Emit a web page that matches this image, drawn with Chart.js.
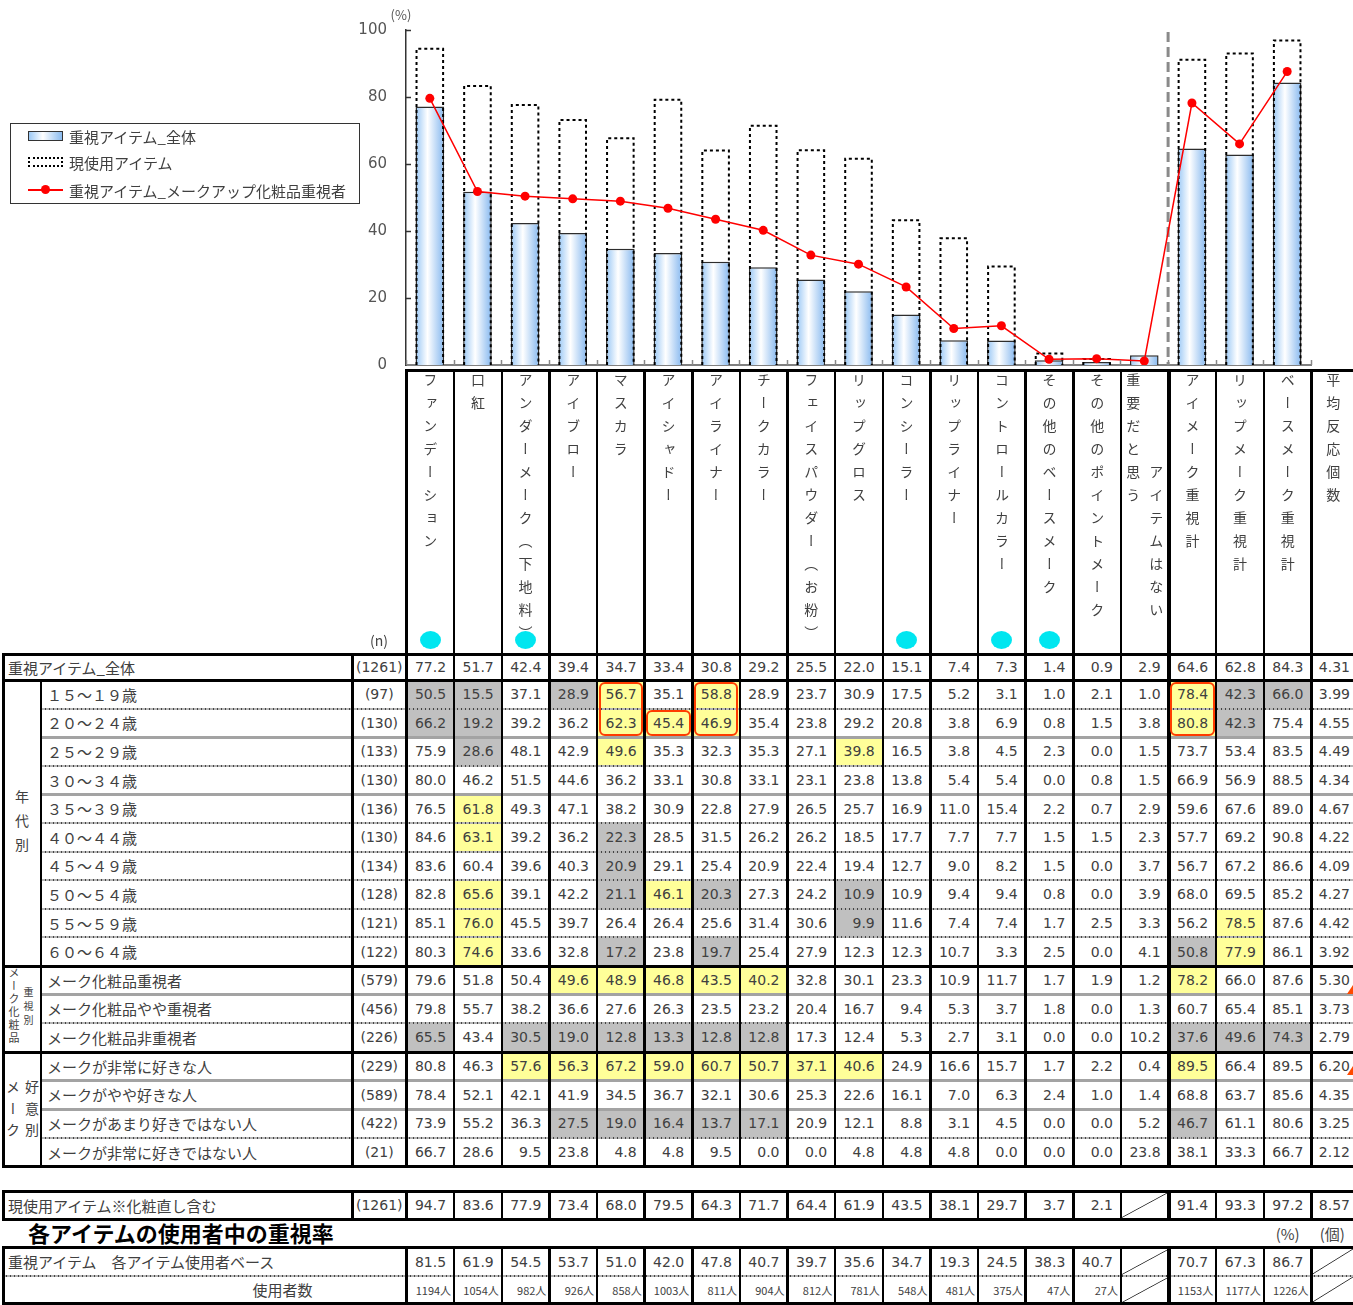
<!DOCTYPE html>
<html lang="ja">
<head>
<meta charset="utf-8">
<title>重視アイテム</title>
<script src="https://cdn.jsdelivr.net/npm/chart.js@4.4.1/dist/chart.umd.min.js"></script>
<style>
html,body{margin:0;padding:0;background:#fff;}
body{position:relative;width:1353px;height:1305px;overflow:hidden;font-family:"Noto Sans CJK JP","Noto Sans",sans-serif;color:#404040;}
#chartBox{position:absolute;left:0;top:0;width:1353px;height:380px;}
.a{position:absolute;box-sizing:border-box;}
.vt{position:absolute;writing-mode:vertical-rl;font-size:14px;line-height:14px;letter-spacing:9px;color:#404040;white-space:nowrap;}
.num{display:flex;align-items:center;justify-content:flex-end;font-family:"DejaVu Sans",sans-serif;font-size:14px;color:#404040;padding-right:8px;}
.lab{display:flex;align-items:center;font-size:15px;color:#404040;white-space:nowrap;}
</style>
</head>
<body>
<div id="chartBox"><canvas id="c" width="1353" height="380"></canvas></div>
<script>
// ---------------- DATA ----------------
const categories = ['ファンデーション','口紅','アンダーメーク（下地料）','アイブロー','マスカラ','アイシャドー','アイライナー','チークカラー','フェイスパウダー（お粉）','リップグロス','コンシーラー','リップライナー','コントロールカラー','その他のベースメーク','その他のポイントメーク','重要だと思うアイテムはない','アイメーク重視計','リップメーク重視計','ベースメーク重視計'];
const avgLabel = '平均反応個数';
const yTicks = [0,20,40,60,80,100];
const seriesNames = ['重視アイテム_全体','現使用アイテム','重視アイテム_メークアップ化粧品重視者'];

const importanceAll = [77.2,51.7,42.4,39.4,34.7,33.4,30.8,29.2,25.5,22.0,15.1,7.4,7.3,1.4,0.9,2.9,64.6,62.8,84.3];
const importanceAllAvg = 4.31;
const currentUse = [94.7,83.6,77.9,73.4,68.0,79.5,64.3,71.7,64.4,61.9,43.5,38.1,29.7,3.7,2.1,null,91.4,93.3,97.2];
const currentUseAvg = 8.57;
const makeupImportant = [79.6,51.8,50.4,49.6,48.9,46.8,43.5,40.2,32.8,30.1,23.3,10.9,11.7,1.7,1.9,1.2,78.2,66.0,87.6];

const ageLabels = ['１５～１９歳','２０～２４歳','２５～２９歳','３０～３４歳','３５～３９歳','４０～４４歳','４５～４９歳','５０～５４歳','５５～５９歳','６０～６４歳'];
const ageN = [97,130,133,130,136,130,134,128,121,122];
const ageValues = [
 [50.5,15.5,37.1,28.9,56.7,35.1,58.8,28.9,23.7,30.9,17.5,5.2,3.1,1.0,2.1,1.0,78.4,42.3,66.0],
 [66.2,19.2,39.2,36.2,62.3,45.4,46.9,35.4,23.8,29.2,20.8,3.8,6.9,0.8,1.5,3.8,80.8,42.3,75.4],
 [75.9,28.6,48.1,42.9,49.6,35.3,32.3,35.3,27.1,39.8,16.5,3.8,4.5,2.3,0.0,1.5,73.7,53.4,83.5],
 [80.0,46.2,51.5,44.6,36.2,33.1,30.8,33.1,23.1,23.8,13.8,5.4,5.4,0.0,0.8,1.5,66.9,56.9,88.5],
 [76.5,61.8,49.3,47.1,38.2,30.9,22.8,27.9,26.5,25.7,16.9,11.0,15.4,2.2,0.7,2.9,59.6,67.6,89.0],
 [84.6,63.1,39.2,36.2,22.3,28.5,31.5,26.2,26.2,18.5,17.7,7.7,7.7,1.5,1.5,2.3,57.7,69.2,90.8],
 [83.6,60.4,39.6,40.3,20.9,29.1,25.4,20.9,22.4,19.4,12.7,9.0,8.2,1.5,0.0,3.7,56.7,67.2,86.6],
 [82.8,65.6,39.1,42.2,21.1,46.1,20.3,27.3,24.2,10.9,10.9,9.4,9.4,0.8,0.0,3.9,68.0,69.5,85.2],
 [85.1,76.0,45.5,39.7,26.4,26.4,25.6,31.4,30.6,9.9,11.6,7.4,7.4,1.7,2.5,3.3,56.2,78.5,87.6],
 [80.3,74.6,33.6,32.8,17.2,23.8,19.7,25.4,27.9,12.3,12.3,10.7,3.3,2.5,0.0,4.1,50.8,77.9,86.1]
];
const ageAvg = [3.99,4.55,4.49,4.34,4.67,4.22,4.09,4.27,4.42,3.92];
const ageMarks = [
 'gg.gy.y.........ygg',
 'gg..yyy.........yg.',
 '.g..y....y.........',
 '...................',
 '.y.................',
 '.y..g..............',
 '....g..............',
 '.y..gyg..g.........',
 '.y.......g.......y.',
 '.y..g.g.........gy.'
];

const makeLabels = ['メーク化粧品重視者','メーク化粧品やや重視者','メーク化粧品非重視者'];
const makeN = [579,456,226];
const makeValues = [
 makeupImportant,
 [79.8,55.7,38.2,36.6,27.6,26.3,23.5,23.2,20.4,16.7,9.4,5.3,3.7,1.8,0.0,1.3,60.7,65.4,85.1],
 [65.5,43.4,30.5,19.0,12.8,13.3,12.8,12.8,17.3,12.4,5.3,2.7,3.1,0.0,0.0,10.2,37.6,49.6,74.3]
];
const makeAvg = [5.30,3.73,2.79];
const makeMarks = ['...yyyyy........y..','...................','g.gggggg........ggg'];

const likeLabels = ['メークが非常に好きな人','メークがやや好きな人','メークがあまり好きではない人','メークが非常に好きではない人'];
const likeN = [229,589,422,21];
const likeValues = [
 [80.8,46.3,57.6,56.3,67.2,59.0,60.7,50.7,37.1,40.6,24.9,16.6,15.7,1.7,2.2,0.4,89.5,66.4,89.5],
 [78.4,52.1,42.1,41.9,34.5,36.7,32.1,30.6,25.3,22.6,16.1,7.0,6.3,2.4,1.0,1.4,68.8,63.7,85.6],
 [73.9,55.2,36.3,27.5,19.0,16.4,13.7,17.1,20.9,12.1,8.8,3.1,4.5,0.0,0.0,5.2,46.7,61.1,80.6],
 [66.7,28.6,9.5,23.8,4.8,4.8,9.5,0.0,0.0,4.8,4.8,4.8,0.0,0.0,0.0,23.8,38.1,33.3,66.7]
];
const likeAvg = [6.20,4.35,3.25,2.12];
const likeMarks = ['..yyyyyyyy......y..','...................','...ggggg........g..','...................'];

const userBaseRate = [81.5,61.9,54.5,53.7,51.0,42.0,47.8,40.7,39.7,35.6,34.7,19.3,24.5,38.3,40.7,null,70.7,67.3,86.7];
const userCounts = [1194,1054,982,926,858,1003,811,904,812,781,548,481,375,47,27,null,1153,1177,1226];
const totalN = 1261;
const dotColumns = [0,2,10,12,13];
// age row index, column, rows spanned
const redBoxes = [[0,4,2],[1,5,1],[0,6,2],[0,16,2]];

// ---------------- LAYOUT HELPERS ----------------
const X0 = 406.5, CW = 47.63, NCOL = 19;
const colL = c => X0 + c * CW;
const AVG_L = colL(NCOL), AVG_R = 1353;
const L_OUT = 3, L_GRP = 41, L_N = 352;

function div(l, t, w, h, css, text, cls) {
  const d = document.createElement('div');
  d.className = 'a' + (cls ? ' ' + cls : '');
  d.style.cssText += `left:${l}px;top:${t}px;width:${w}px;height:${h}px;` + (css || '');
  if (text !== undefined) d.textContent = text;
  document.body.appendChild(d);
  return d;
}
function vtext(l, t, text, css) {
  const d = document.createElement('div');
  d.className = 'vt';
  d.style.cssText = `left:${l}px;top:${t}px;` + (css || '');
  d.textContent = text;
  document.body.appendChild(d);
  return d;
}
const lines = [];
function hline(x1, x2, y, style) { lines.push(['h', x1, x2, y, style]); }
function vline(x, y1, y2, w) { lines.push(['v', x, y1, y2, w]); }
function flushLines() {
  lines.forEach(L => {
    if (L[0] === 'h') {
      const [, x1, x2, y, s] = L;
      if (s === 'k') div(x1, y - 1.5, x2 - x1, 3, 'background:#000');
      else if (s === 'g') div(x1, y - 1.5, x2 - x1, 3, 'background:#a3a3a3');
      else div(x1, y - 1, x2 - x1, 2, 'background:repeating-linear-gradient(to right,#444 0 1px,#b5b5b5 1px 4px)');
    } else {
      const [, x, y1, y2, w] = L;
      div(x - w / 2, y1 - 1.5, w, y2 - y1 + 3, 'background:#000');
    }
  });
}
function slash(l, t, w, h) {
  div(l, t, w, h, 'background:linear-gradient(to bottom right,transparent calc(50% - 0.8px),#333 50%,transparent calc(50% + 0.8px));');
}
function valueRow(y, h, vals, avg, marks, users) {
  for (let c = 0; c < NCOL; c++) {
    const l = colL(c), v = vals[c], m = marks ? marks[c] : '.';
    if (m === 'g') div(l, y, CW, h, 'background:#c0c0c0');
    if (m === 'y') div(l, y, CW, h, 'background:#ffff99');
    if (v === null) slash(l, y + 1, CW, h - 2);
    else if (users) div(l, y, CW, h, 'font-family:"Noto Sans CJK JP";font-size:11px;padding-right:3px;', v + '人', 'num');
    else div(l, y, CW, h, '', v.toFixed(1), 'num');
  }
  if (avg === null) slash(AVG_L, y + 1, AVG_R - AVG_L, h - 2);
  else if (avg !== undefined) div(AVG_L, y, AVG_R - AVG_L, h, 'padding-right:3px;', avg.toFixed(2), 'num');
}
function itemVLines(y1, y2) {
  vline(colL(0), y1, y2, 3);
  for (let c = 1; c < NCOL; c++) vline(colL(c), y1, y2, c === 16 ? 4 : 2.5);
  vline(AVG_L, y1, y2, 2.5);
}

// ---------------- LEGEND & AXIS TITLE ----------------
div(388, 6, 26, 18, 'font-size:13px;color:#555;text-align:center;line-height:18px;', '(%)');
div(10, 123, 350, 81, 'border:1px solid #333;');
div(28, 131, 35, 10, 'border:1px solid #333;background:linear-gradient(to right,#9cc9f5,#ffffff 42%,#8abbef);');
div(28, 157, 35, 10, 'border:2px dotted #000;');
div(28, 189, 35, 1.5, 'background:#ff0000;');
div(41, 185, 9, 9, 'background:#ff0000;border-radius:50%;');
div(69, 126, 290, 20, '', seriesNames[0], 'lab');
div(69, 152, 290, 20, '', seriesNames[1], 'lab');
div(69, 180, 290, 20, '', seriesNames[2], 'lab');

// ---------------- HEADER ----------------
const HTOP = 370, HBOT = 654;
for (let c = 0; c < NCOL; c++) {
  const cx = colL(c) + CW / 2;
  if (c === 15) {
    vtext(cx - 18.5, 373, '重要だと思う');
    vtext(cx + 4.5, 373 + 4 * 23, 'アイテムはない');
  } else {
    vtext(cx - 7, 373, categories[c]);
  }
}
vtext((AVG_L + AVG_R) / 2 - 6, 373, avgLabel);
dotColumns.forEach(c => { const cx = colL(c) + CW / 2; div(cx - 10.5, 631, 21, 18, 'background:#00e6f0;border-radius:50%;'); });
div(360, 630, 38, 20, 'font-size:14px;text-align:center;line-height:20px;color:#444;', '(n)');
hline(colL(0) - 1, AVG_R, HTOP, 'k');
itemVLines(HTOP, HBOT);

// ---------------- BODY ----------------
const RH = 28.6;
const Y_ALL = 654, Y_AGE = 680, Y_MAKE = 966, Y_LIKE = 1052, Y_END = 1166.4;
div(8, Y_ALL, 340, Y_AGE - Y_ALL, '', seriesNames[0], 'lab');
div(L_N, Y_ALL, X0 - L_N, Y_AGE - Y_ALL, 'justify-content:center;padding-right:0;', `(${totalN})`, 'num');
valueRow(Y_ALL, Y_AGE - Y_ALL, importanceAll, importanceAllAvg, null);

function group(y0, labels, ns, vals, avgs, marks, seps) {
  labels.forEach((lab, i) => {
    const y = y0 + i * RH;
    div(47, y, 300, RH, '', lab, 'lab');
    div(L_N, y, X0 - L_N, RH, 'justify-content:center;padding-right:0;', `(${ns[i]})`, 'num');
    valueRow(y, RH, vals[i], avgs[i], marks[i]);
    if (i > 0) hline(L_GRP, AVG_R, y, seps[i - 1]);
  });
}
group(Y_AGE, ageLabels, ageN, ageValues, ageAvg, ageMarks, ['d','g','d','g','d','d','d','d','d']);
group(Y_MAKE, makeLabels, makeN, makeValues, makeAvg, makeMarks, ['g','d']);
group(Y_LIKE, likeLabels, likeN, likeValues, likeAvg, likeMarks, ['g','g','d']);

vtext(15, 790, '年代別', 'letter-spacing:10px;');
vtext(8, 967, 'メーク化粧品', 'font-size:11px;line-height:11px;letter-spacing:2px;');
vtext(23, 987, '重視別', 'font-size:10px;line-height:10px;letter-spacing:4px;');
vtext(6, 1080, 'メーク', 'letter-spacing:7.5px;');
vtext(25, 1080, '好意別', 'letter-spacing:7.5px;');

[Y_ALL, Y_AGE, Y_MAKE, Y_LIKE, Y_END].forEach(y => hline(L_OUT - 1, AVG_R, y, 'k'));
vline(L_OUT, Y_ALL, Y_END, 3);
vline(L_GRP, Y_AGE, Y_END, 2.5);
vline(L_N, Y_ALL, Y_END, 3);
itemVLines(Y_ALL, Y_END);

// current-use row
const Y_CU = 1191, Y_CU2 = 1219;
div(8, Y_CU, 340, Y_CU2 - Y_CU, '', '現使用アイテム※化粧直し含む', 'lab');
div(L_N, Y_CU, X0 - L_N, Y_CU2 - Y_CU, 'justify-content:center;padding-right:0;', `(${totalN})`, 'num');
valueRow(Y_CU, Y_CU2 - Y_CU, currentUse, currentUseAvg, null);
hline(L_OUT - 1, AVG_R, Y_CU, 'k'); hline(L_OUT - 1, AVG_R, Y_CU2, 'k');
vline(L_OUT, Y_CU, Y_CU2, 3); vline(L_N, Y_CU, Y_CU2, 3);
itemVLines(Y_CU, Y_CU2);

// title row
div(28, 1217, 400, 30, 'font-size:22px;font-weight:bold;color:#000;display:flex;align-items:center;', '各アイテムの使用者中の重視率');
div(colL(18), 1220, CW, 26, 'font-size:15px;display:flex;align-items:center;justify-content:center;color:#444;', '(%)');
div(AVG_L, 1220, AVG_R - AVG_L, 26, 'font-size:15px;display:flex;align-items:center;justify-content:center;color:#444;', '(個)');

// user-base rows
const Y_B1 = 1247.5, Y_B2 = 1276, Y_B3 = 1303.5;
div(8, Y_B1, 395, Y_B2 - Y_B1, '', '重視アイテム　各アイテム使用者ベース', 'lab');
div(200, Y_B2, 165, Y_B3 - Y_B2, 'justify-content:center;', '使用者数', 'lab');
valueRow(Y_B1, Y_B2 - Y_B1, userBaseRate, null, null);
valueRow(Y_B2, Y_B3 - Y_B2, userCounts, null, null, true);
hline(L_OUT - 1, AVG_R, Y_B1, 'k'); hline(L_OUT - 1, AVG_R, Y_B2, 'd'); hline(L_OUT - 1, AVG_R, Y_B3, 'k');
vline(L_OUT, Y_B1, Y_B3, 3);
itemVLines(Y_B1, Y_B3);

flushLines();

redBoxes.forEach(([r, c, span]) => {
  div(colL(c) + 1.5, Y_AGE + r * RH + 1.5, CW - 3, span * RH - 3, 'border:2px solid #ff3c00;border-radius:6px;');
});
div(1347, 985, 0, 0, 'border-left:6px solid transparent;border-bottom:9px solid #ff4a00;width:0;height:0;');
div(1347, 1066, 0, 0, 'border-left:6px solid transparent;border-bottom:9px solid #ff4a00;width:0;height:0;');

// ---------------- CHART ----------------
const BAR_PCT = 0.6;
function barGradient(ctx) {
  const chart = ctx.chart, xs = chart.scales && chart.scales.x, area = chart.chartArea;
  if (!xs || !area || ctx.dataIndex === undefined) return '#cfe3f8';
  const cx = xs.getPixelForValue(ctx.dataIndex);
  const w = (area.right - area.left) / categories.length * BAR_PCT;
  const g = chart.ctx.createLinearGradient(cx - w / 2, 0, cx + w / 2, 0);
  g.addColorStop(0, '#99c7f5');
  g.addColorStop(0.42, '#ffffff');
  g.addColorStop(1, '#86b8ef');
  return g;
}
const decor = {
  id: 'decor',
  beforeDatasetsDraw(chart) {
    const { ctx, chartArea: a, scales: { x } } = chart;
    const bx = x.getPixelForValue(15.5);
    ctx.save();
    ctx.strokeStyle = '#8a8a8a'; ctx.lineWidth = 3; ctx.setLineDash([10, 5]);
    ctx.beginPath(); ctx.moveTo(bx, a.top + 2); ctx.lineTo(bx, a.bottom); ctx.stroke();
    ctx.restore();
  },
  afterDatasetDraw(chart, args) {
    if (args.index !== 1) return;
    const ctx = chart.ctx;
    ctx.save();
    ctx.strokeStyle = '#000'; ctx.lineWidth = 2; ctx.setLineDash([3, 3]);
    args.meta.data.forEach((bar, i) => {
      if (currentUse[i] === null) return;
      const p = bar.getProps(['x', 'y', 'base', 'width'], true);
      const l = p.x - p.width / 2 + 1, r = p.x + p.width / 2 - 1;
      ctx.beginPath();
      ctx.moveTo(l, p.base); ctx.lineTo(l, p.y + 1); ctx.lineTo(r, p.y + 1); ctx.lineTo(r, p.base);
      ctx.stroke();
    });
    ctx.restore();
  },
  afterDraw(chart) {
    const { ctx, chartArea: a, scales: { x, y } } = chart;
    ctx.save();
    ctx.strokeStyle = '#333'; ctx.lineWidth = 1.5;
    yTicks.forEach(v => {
      if (v === 0) return;
      const py = Math.round(y.getPixelForValue(v)) + 0.5;
      ctx.beginPath(); ctx.moveTo(a.left, py); ctx.lineTo(a.left + 5, py); ctx.stroke();
    });
    ctx.strokeStyle = '#888';
    for (let i = 0; i <= categories.length; i++) {
      const px = Math.round(x.getPixelForValue(i - 0.5)) + 0.5;
      ctx.beginPath(); ctx.moveTo(px, a.bottom); ctx.lineTo(px, a.bottom - 5); ctx.stroke();
    }
    ctx.restore();
  }
};

new Chart(document.getElementById('c'), {
  data: {
    labels: categories,
    datasets: [
      { type: 'bar', label: seriesNames[0], data: importanceAll, backgroundColor: barGradient,
        borderColor: '#2d2d2d', borderWidth: 1.5, grouped: false, barPercentage: BAR_PCT, categoryPercentage: 1, order: 2 },
      { type: 'bar', label: seriesNames[1], data: currentUse, backgroundColor: 'rgba(0,0,0,0)',
        borderWidth: 0, grouped: false, barPercentage: BAR_PCT, categoryPercentage: 1, order: 1 },
      { type: 'line', label: seriesNames[2], data: makeupImportant, borderColor: '#ff0000', borderWidth: 1.5,
        pointRadius: 4.5, pointBackgroundColor: '#ff0000', pointBorderWidth: 0, tension: 0, order: 0 }
    ]
  },
  options: {
    responsive: false, animation: false,
    layout: { padding: { left: 346, right: 42, top: 30, bottom: 0 } },
    plugins: { legend: { display: false }, tooltip: { enabled: false } },
    scales: {
      x: { type: 'category', offset: true, grid: { display: false, drawTicks: false }, ticks: { display: false },
           border: { display: true, color: '#808080', width: 2 }, afterFit(s) { s.height = 15; } },
      y: { min: 0, max: 100, ticks: { stepSize: 20, color: '#555', padding: 3, font: { family: 'DejaVu Sans', size: 15 } },
           grid: { display: false, drawTicks: true, tickLength: 16 }, border: { display: true, color: '#333', width: 1.5 },
           afterFit(s) { s.width = 60; } }
    }
  },
  plugins: [decor]
});
</script>
</body>
</html>
